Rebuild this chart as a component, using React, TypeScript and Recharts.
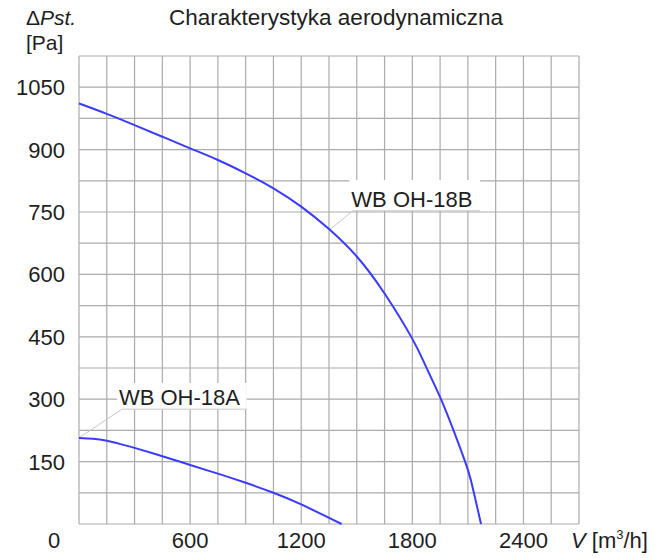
import { LineChart, Line, XAxis, YAxis, CartesianGrid, ReferenceArea, ReferenceLine } from "recharts";

// flow V [m3/h] and static pressure [Pa]
const flowA = [0, 75, 150, 225, 300, 450, 600, 750, 900, 1050, 1200, 1418];
const pressureA = [207, 205, 200, 192, 183, 163, 142, 121, 99, 75, 47, 0];

const flowB = [0, 150, 300, 450, 600, 750, 900, 1050, 1200, 1350, 1500, 1650, 1800, 1875, 1950, 2025, 2100, 2135, 2171];
const pressureB = [1011, 986, 959, 931, 903, 875, 843, 807, 763, 709, 643, 554, 445, 377, 305, 222, 130, 70, 0];

const xTicks = [0, 150, 300, 450, 600, 750, 900, 1050, 1200, 1350, 1500, 1650, 1800, 1950, 2100, 2250, 2400, 2550, 2700];
const yTicks = [0, 75, 150, 225, 300, 375, 450, 525, 600, 675, 750, 825, 900, 975, 1050, 1125];
const xLabelStep = 600;
const yLabelStep = 150;

// curve name tags (data units)
const tagNames = ["WB OH-18A", "WB OH-18B"];
const tagLeft = [205, 1460];
const tagRight = [905, 2165];
const tagBottom = [276, 753];
const tagTop = [339, 827];
const leaderStart = [232, 1480];
const leaderEnd = [
  { x: 0, y: 207 },
  { x: 1355, y: 708 },
];

const seriesA = flowA.map((v, i) => ({ v, p: pressureA[i] }));
const seriesB = flowB.map((v, i) => ({ v, p: pressureB[i] }));

const FONT = "'Liberation Sans', Arial, sans-serif";
const TEXT = "#1e1e1e";
const BLUE = "#3b3bff";

function XTick({ x, y, payload }: any) {
  const v = payload.value;
  if (v % xLabelStep !== 0) return <g />;
  return (
    <text x={v === 0 ? x - 25 : x} y={y} dy={24} textAnchor="middle" fontSize={22} fontFamily={FONT} fill={TEXT}>
      {v}
    </text>
  );
}

function YTick({ x, y, payload }: any) {
  const v = payload.value;
  if (v === 0 || v % yLabelStep !== 0) return <g />;
  return (
    <text x={x} y={y} dy={8} textAnchor="end" fontSize={22} fontFamily={FONT} fill={TEXT}>
      {v}
    </text>
  );
}

function tagLabel(name: string) {
  return (props: any) => {
    const vb = props.viewBox;
    return (
      <text x={vb.x + 2} y={vb.y + vb.height - 4} fontSize={22} fontFamily={FONT} fill={TEXT}>
        {name}
      </text>
    );
  };
}

export default function App() {
  return (
    <div style={{ position: "absolute", left: 0, top: 0, width: 666, height: 558, background: "#fff" }}>
      <LineChart width={666} height={558} margin={{ top: 56, right: 87, bottom: 0, left: 0 }}>
        <CartesianGrid stroke="#ababab" strokeWidth={1.2} />
        <XAxis
          dataKey="v"
          type="number"
          domain={[0, 2700]}
          ticks={xTicks}
          interval={0}
          height={34}
          axisLine={false}
          tickLine={false}
          tickSize={0}
          tickMargin={0}
          tick={<XTick />}
        />
        <YAxis
          type="number"
          domain={[0, 1125]}
          ticks={yTicks}
          interval={0}
          width={79}
          axisLine={false}
          tickLine={false}
          tickSize={0}
          tickMargin={14}
          tick={<YTick />}
        />
        {tagNames.map((name, i) => (
          <ReferenceArea
            key={name}
            x1={tagLeft[i]}
            x2={tagRight[i]}
            y1={tagBottom[i]}
            y2={tagTop[i]}
            fill="#fff"
            fillOpacity={1}
            stroke="none"
            label={tagLabel(name)}
          />
        ))}
        {tagNames.map((name, i) => (
          <ReferenceLine
            key={name + "-u"}
            segment={[
              { x: leaderStart[i], y: tagBottom[i] },
              { x: tagRight[i], y: tagBottom[i] },
            ]}
            stroke="#c8c8c8"
            strokeWidth={1}
          />
        ))}
        {tagNames.map((name, i) => (
          <ReferenceLine
            key={name + "-l"}
            segment={[{ x: leaderStart[i], y: tagBottom[i] }, leaderEnd[i]]}
            stroke="#c8c8c8"
            strokeWidth={1}
          />
        ))}
        <Line data={seriesA} dataKey="p" type="natural" stroke={BLUE} strokeWidth={2} dot={false} isAnimationActive={false} />
        <Line data={seriesB} dataKey="p" type="natural" stroke={BLUE} strokeWidth={2} dot={false} isAnimationActive={false} />
      </LineChart>
      <svg width={666} height={558} style={{ position: "absolute", left: 0, top: 0, pointerEvents: "none" }}>
        <text x={336} y={25} textAnchor="middle" fontSize={22.5} fontFamily={FONT} fill={TEXT}>
          Charakterystyka aerodynamiczna
        </text>
        <text x={26} y={25} fontSize={21} fontFamily={FONT} fill={TEXT}>
          Δ<tspan fontStyle="italic">Pst.</tspan>
        </text>
        <text x={26} y={50} fontSize={21} fontFamily={FONT} fill={TEXT}>
          [Pa]
        </text>
        <text x={571} y={548} fontSize={22} fontFamily={FONT} fill={TEXT}>
          <tspan fontStyle="italic">V</tspan> [m<tspan fontSize={13} dy={-9}>3</tspan>
          <tspan dy={9}>/h]</tspan>
        </text>
      </svg>
    </div>
  );
}
